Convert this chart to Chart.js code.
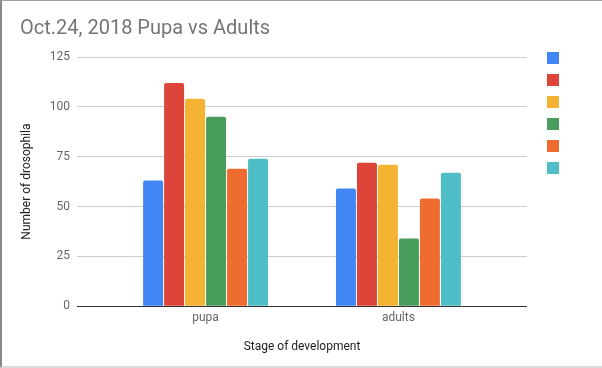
<!DOCTYPE html>
<html>
<head>
<meta charset="utf-8">
<script src="https://cdn.jsdelivr.net/npm/chart.js@4"></script>
<style>
    body { margin: 0; background: #fff; }
    .wrap { position: relative; width: 602px; height: 368px; }
    .wrap canvas { position: absolute; left: 0; top: 0; }
    .frame {
        position: absolute; left: 0; top: 0; width: 602px; height: 368px;
        border-top: 1px solid #a0a0a0; border-left: 2px solid #8a8a8a;
        border-bottom: 2px solid #dadada; box-sizing: border-box; pointer-events: none;
    }
</style>
</head>
<body>
<div class="wrap">
    <canvas id="chart" width="602" height="368"></canvas>
    <div class="frame"></div>
</div>
<script>
// data
const stages = ['pupa', 'adults'];
const series1 = [63, 59];
const series2 = [112, 72];
const series3 = [104, 71];
const series4 = [95, 34];
const series5 = [69, 54];
const series6 = [74, 67];
const yTicks = [0, 25, 50, 75, 100, 125];

const colors = ['#4285f4', '#dc4538', '#f4b332', '#489d5c', '#ef6c31', '#4fbdc6'];
const allSeries = [series1, series2, series3, series4, series5, series6];

Chart.defaults.font.family = 'Roboto, Arial, sans-serif';

const ctx = document.getElementById('chart').getContext('2d');

new Chart(ctx, {
    type: 'bar',
    data: {
        datasets: allSeries.map((vals, i) => ({
            label: '',
            data: vals.map((v, j) => ({ x: j, y: v })),
            backgroundColor: colors[i],
            borderWidth: 0,
            borderRadius: { topLeft: 2, topRight: 2 },
            borderSkipped: 'bottom',
            categoryPercentage: 0.653,
            barPercentage: 0.952
        }))
    },
    options: {
        responsive: false,
        animation: false,
        layout: { padding: { left: 20, right: 27, top: 0, bottom: 0 } },
        plugins: {
            title: {
                display: true,
                text: 'Oct.24, 2018 Pupa vs Adults',
                align: 'start',
                color: '#757575',
                font: { size: 20, weight: 'normal' },
                padding: { top: 17, bottom: 16 }
            },
            legend: {
                position: 'right',
                align: 'start',
                title: { display: true, text: '', font: { size: 12, lineHeight: 1 }, padding: { top: 30, bottom: 0 } },
                labels: { boxWidth: 12, boxHeight: 12, padding: 10, font: { size: 12 } }
            },
            tooltip: { enabled: false }
        },
        scales: {
            x: {
                type: 'linear',
                offset: false,
                bounds: 'data',
                min: -2 / 3,
                max: 5 / 3,
                afterBuildTicks: function(scale) {
                    scale.ticks = stages.map((s, i) => ({ value: i }));
                },
                grid: { display: false, drawTicks: false, offset: false },
                border: { display: false },
                ticks: {
                    padding: 5,
                    color: '#666',
                    font: { size: 12 },
                    callback: function(value) { return stages[value]; }
                },
                title: {
                    display: true,
                    text: 'Stage of development',
                    color: '#222',
                    font: { size: 12 },
                    padding: { top: 9, bottom: 14 }
                }
            },
            y: {
                min: 0,
                max: 125,
                afterBuildTicks: function(scale) {
                    scale.ticks = yTicks.map(v => ({ value: v }));
                },
                afterFit: function(scale) { scale.width = 57; },
                grid: {
                    drawTicks: false,
                    color: c => c.tick && c.tick.value === 0 ? '#333' : '#cccccc',
                    lineWidth: 1
                },
                border: { display: false },
                ticks: { padding: 7, color: '#666', font: { size: 12 } },
                title: {
                    display: true,
                    text: 'Number of drosophila',
                    color: '#222',
                    font: { size: 12 },
                    padding: 0
                }
            },
            // spacer between plot and legend
            gap: {
                position: 'right',
                display: true,
                afterFit: function(scale) { scale.width = 10; },
                grid: { display: false, drawTicks: false },
                border: { display: false },
                ticks: { display: false }
            }
        }
    }
});
</script>
</body>
</html>
